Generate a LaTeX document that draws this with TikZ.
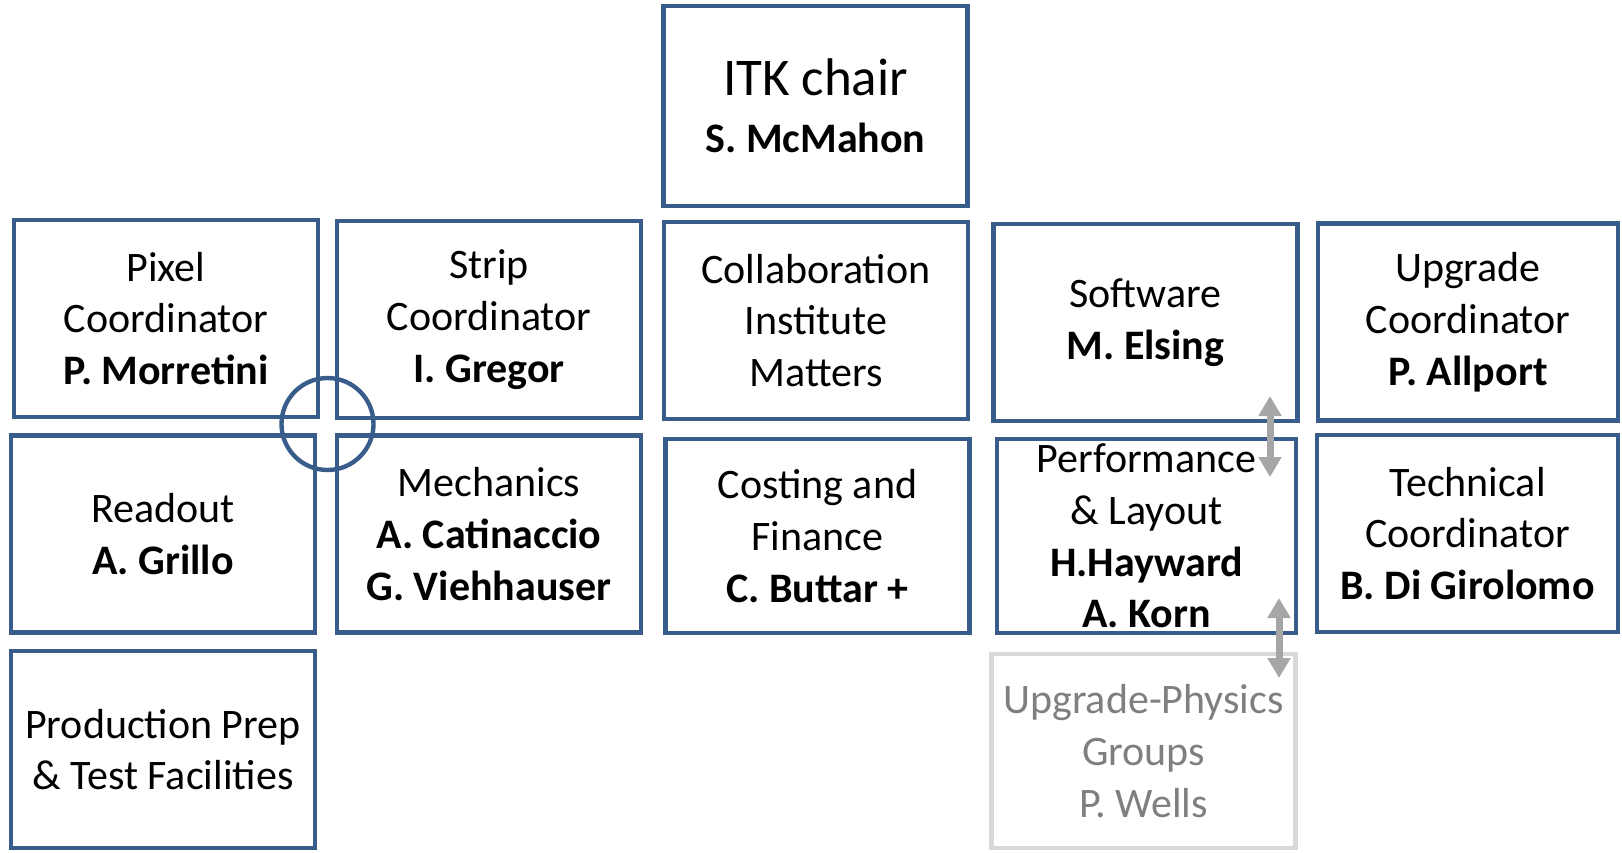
\documentclass[tikz,border=0pt]{standalone}
\usepackage{fontspec}
\setmainfont{Carlito}
\usetikzlibrary{arrows.meta}
\definecolor{itkblue}{HTML}{385D8A}
\definecolor{boxgrey}{HTML}{D9D9D9}
\definecolor{textgrey}{HTML}{7F7F7F}
\definecolor{arrowgrey}{HTML}{A6A6A6}

\begin{document}
\begin{tikzpicture}[%
  x=0.5pt, y=-0.5pt,
  box/.style={draw=itkblue, line width=2.4pt, rectangle, align=center,
    minimum width=152pt, minimum height=98.5pt, inner sep=0pt,
    font=\fontsize{21}{25.9}\selectfont},
  greybox/.style={box, draw=boxgrey, text=textgrey},
  link/.style={draw=arrowgrey, line width=3.5pt,
    {Triangle[width=11pt,length=10pt]}-{Triangle[width=11pt,length=10pt]}}]
\useasboundingbox (0,0) rectangle (1622,852);

% top
\node[box, minimum height=100pt, font=\fontsize{21}{28.5}\selectfont] (chair) at (815.5,106)
  {{\fontsize{26.5}{28.5}\selectfont ITK chair}\\\textbf{S. McMahon}};

% first row
\node[box] (pixel) at (166,318.5) {Pixel\\Coordinator\\\textbf{P. Morretini}};
\node[box] (strip) at (489,319.5) {Strip\\Coordinator\\\textbf{I. Gregor}};
\node[box] (collab) at (816,320.5) {Collaboration\\Institute\\Matters};
\node[box] (soft) at (1145.5,322.5) {Software\\\textbf{M. Elsing}};
\node[box, minimum width=150pt] (upgrade) at (1468,322) {Upgrade\\Coordinator\\\textbf{P. Allport}};

% second row
\node[box] (readout) at (163,534) {Readout\\\textbf{A. Grillo}};
\node[box] (mech) at (489,534) {Mechanics\\\textbf{A. Catinaccio}\\\textbf{G. Viehhauser}};
\node[box, minimum height=97pt] (cost) at (817.5,536) {Costing and\\Finance\\\textbf{C. Buttar +}};
\node[box, minimum width=149.5pt, minimum height=97pt] (perf) at (1146.5,536)
  {Performance\\\& Layout\\\textbf{H.Hayward}\\\textbf{A. Korn}};
\node[box, minimum width=150.5pt] (tech) at (1467.5,533.5) {Technical\\Coordinator\\\textbf{B. Di Girolomo}};

% third row
\node[box] (prod) at (163,749.5) {Production Prep\\\& Test Facilities};
\node[greybox, minimum height=97pt] (physics) at (1143.5,751) {Upgrade-Physics\\Groups\\P. Wells};

% marker and links
\node[draw=itkblue, line width=2.2pt, circle, minimum size=46pt, inner sep=0pt] (ring) at (327.5,424) {};
\coordinate (linkA) at (1270,396);
\coordinate (linkB) at (1270,477);
\coordinate (linkC) at (1279,598);
\coordinate (linkD) at (1279,678);
\draw[link] (linkA) -- (linkB);
\draw[link] (linkC) -- (linkD);
\end{tikzpicture}
\end{document}
